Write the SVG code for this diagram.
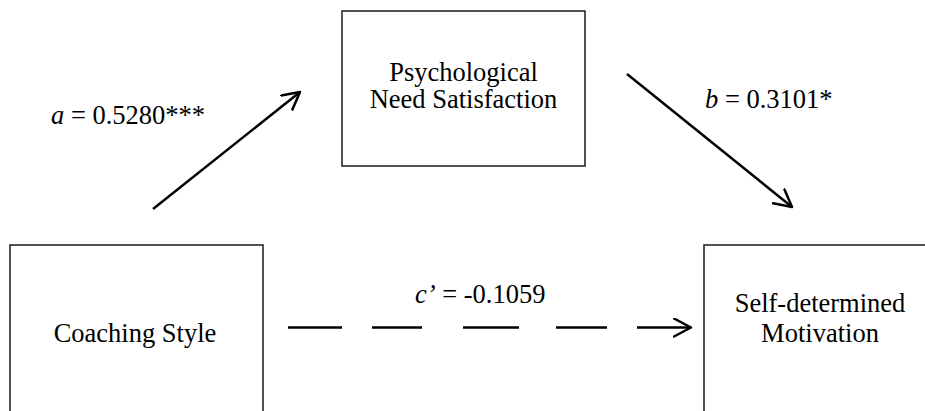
<svg xmlns="http://www.w3.org/2000/svg" width="925" height="411" viewBox="0 0 925 411">
<style>
.box{fill:#fff;stroke:#1a1a1a;stroke-width:1.5}
.t{font-family:"Liberation Serif","Times New Roman",serif;font-size:26.5px;fill:#000;text-anchor:middle}
.l{font-family:"Liberation Serif","Times New Roman",serif;font-size:26.5px;fill:#000}
.c{stroke:#000;stroke-width:2.5;fill:none}
</style>
<defs>
<marker id="ah" markerUnits="userSpaceOnUse" markerWidth="24" markerHeight="24" refX="18" refY="10" orient="auto" viewBox="0 0 24 24">
<path d="M1,1 L18,10 L1,19" fill="none" stroke="#000" stroke-width="2.5" stroke-linecap="round" stroke-linejoin="round"/>
</marker>
</defs>
<g id="node-psn">
<rect class="box" x="342" y="11" width="243" height="155"/>
<text class="t" x="463.5" y="81">Psychological</text>
<text class="t" x="463.5" y="108">Need Satisfaction</text>
</g>
<g id="node-coaching">
<rect class="box" x="10" y="245" width="253" height="180"/>
<text class="t" x="135" y="342">Coaching Style</text>
</g>
<g id="node-sdm">
<rect class="box" x="704" y="245" width="240" height="180"/>
<text class="t" x="820" y="312">Self-determined</text>
<text class="t" x="820" y="342">Motivation</text>
</g>
<g id="connectors">
<line class="c" x1="153" y1="209" x2="300" y2="92" marker-end="url(#ah)"/>
<line class="c" x1="627" y1="74" x2="792" y2="207" marker-end="url(#ah)"/>
<line class="c" x1="288" y1="327.5" x2="342" y2="327.5"/>
<line class="c" x1="372" y1="327.5" x2="422" y2="327.5"/>
<line class="c" x1="463" y1="327.5" x2="519" y2="327.5"/>
<line class="c" x1="556" y1="327.5" x2="607" y2="327.5"/>
<line class="c" x1="637" y1="327.5" x2="691" y2="327.5" marker-end="url(#ah)"/>
</g>
<g id="labels">
<text class="l" x="51" y="124"><tspan font-style="italic">a</tspan> = 0.5280***</text>
<text class="l" x="705" y="108"><tspan font-style="italic">b</tspan> = 0.3101*</text>
<text class="l" x="415" y="303"><tspan font-style="italic">c’</tspan> = -0.1059</text>
</g>
</svg>
